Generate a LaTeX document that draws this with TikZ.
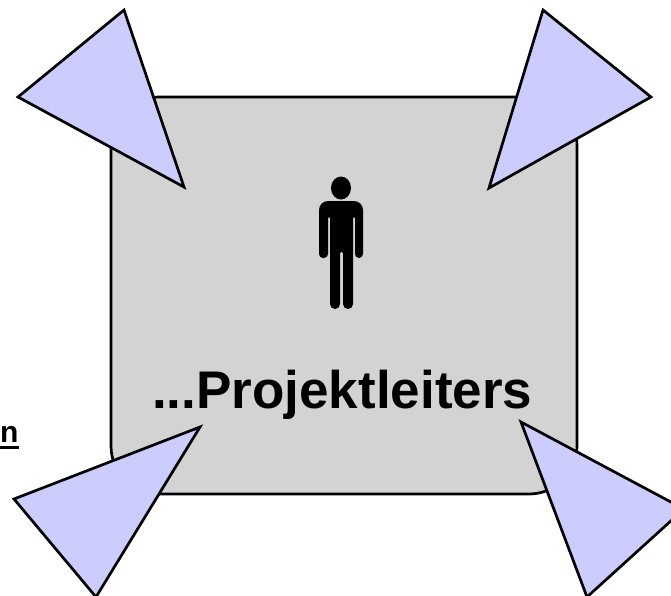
\documentclass[tikz,border=0pt]{standalone}
\usepackage{fontspec}
\setmainfont{Liberation Sans}
\usetikzlibrary{positioning}
\definecolor{boxgray}{HTML}{D3D3D3}
\definecolor{tipblue}{HTML}{CCCCFF}

\begin{document}
\begin{tikzpicture}[
  x=1pt, y=-1pt,
  panel/.style={draw=black, fill=boxgray, line width=2.7pt, rounded corners=48pt},
  tip/.style={draw=black, fill=tipblue, line width=2.7pt, line join=miter},
  figur/.style={fill=black, draw=none},
  lab/.style={inner sep=0pt, anchor=base west},
]
\useasboundingbox (0,0) rectangle (671,595);
\clip (0,0) rectangle (671,595);
\draw[panel] (111,97) rectangle (577,494);
% person
\fill[figur] (341,188) ellipse (10 and 11.5);
\fill[figur, rounded corners=4.5pt] (319,258) [rounded corners=9pt] -- (319,201) -- (363,201) [rounded corners=4pt] -- (363,258) -- (355,258) [rounded corners=1pt] -- (355,217)
  -- (353,217) [rounded corners=5pt] -- (353,309) -- (343,309) [rounded corners=1pt] -- (343,252) -- (340,252) [rounded corners=5pt] -- (340,309) -- (330,309) [rounded corners=1pt] -- (330,217)
  -- (328,217) [rounded corners=4pt] -- (328,258) -- cycle;
\node[lab, font=\bfseries\fontsize{53}{53}\selectfont] (rolle) at (152,408.5) {...Projektleiters};
\node[lab, font=\bfseries\fontsize{30}{30}\selectfont] (rest) at (0,442) {n\llap{\rule[-7pt]{19pt}{3pt}}};
% four tips
\draw[tip] (124,10) -- (18,97) -- (184,187) -- cycle;
\draw[tip] (543,10) -- (651,97) -- (489,188) -- cycle;
\draw[tip] (200,427) -- (14,499) -- (96,597) -- cycle;
\draw[tip] (521,422) -- (684,509) -- (587,597) -- cycle;
\end{tikzpicture}
\end{document}
